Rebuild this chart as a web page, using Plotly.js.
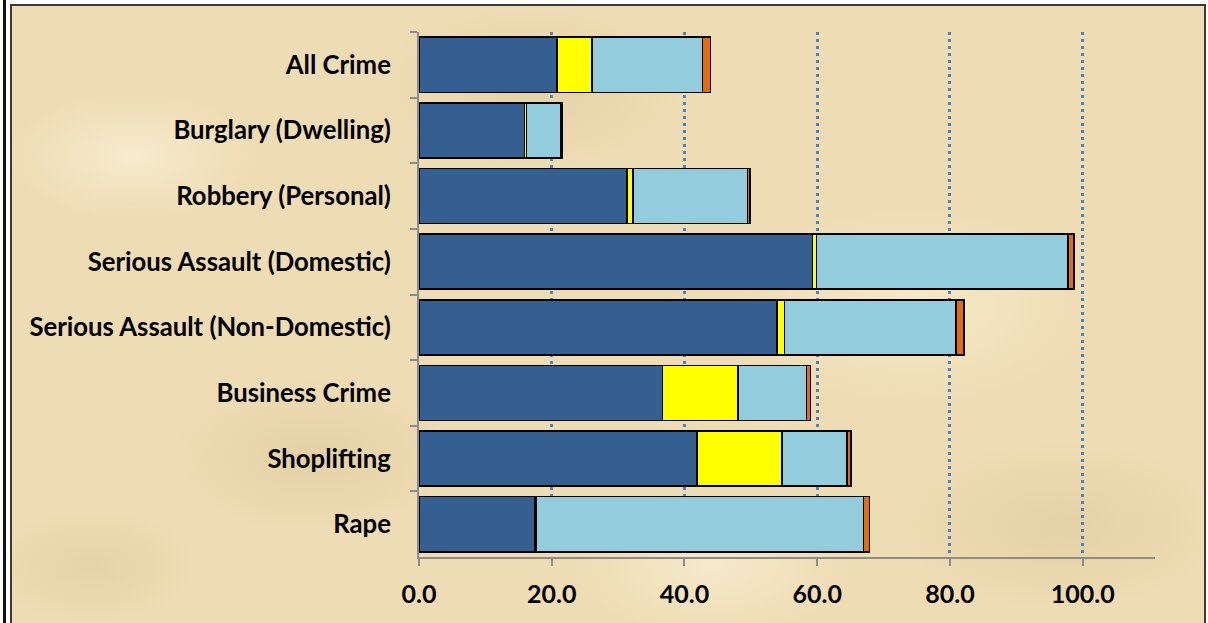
<!DOCTYPE html>
<html>
<head>
<meta charset="utf-8">
<script src="https://cdn.plot.ly/plotly-3.0.1.min.js"></script>
<style>
  html, body { margin:0; padding:0; background:#ffffff; }
  #wrap { position:relative; width:1208px; height:623px; overflow:hidden; background:#ffffff; }
  #vline { position:absolute; left:3px; top:0; width:3px; height:623px; background:#111; }
  #frame {
    position:absolute; left:10px; top:4px; width:1192px; height:640px;
    border:2px solid #3a3a3a;
    background-color:#eedcb4;
    background-image:
      radial-gradient(ellipse 180px 90px at 120px 150px, rgba(255,248,225,0.55), rgba(255,248,225,0) 70%),
      radial-gradient(ellipse 220px 120px at 520px 80px, rgba(214,190,140,0.35), rgba(214,190,140,0) 70%),
      radial-gradient(ellipse 260px 140px at 900px 300px, rgba(255,246,220,0.5), rgba(255,246,220,0) 70%),
      radial-gradient(ellipse 200px 110px at 300px 450px, rgba(210,186,138,0.35), rgba(210,186,138,0) 70%),
      radial-gradient(ellipse 240px 120px at 1050px 520px, rgba(212,188,140,0.35), rgba(212,188,140,0) 70%),
      radial-gradient(ellipse 200px 100px at 700px 560px, rgba(255,247,222,0.5), rgba(255,247,222,0) 70%),
      radial-gradient(ellipse 150px 80px at 80px 560px, rgba(215,192,145,0.35), rgba(215,192,145,0) 70%);
  }
  #chart { position:absolute; left:0; top:0; width:1208px; height:623px; }
</style>
</head>
<body>
<div id="wrap">
  <div id="vline"></div>
  <div id="frame"></div>
  <div id="chart"></div>
</div>
<script>
const categories = [
  "All Crime",
  "Burglary (Dwelling)",
  "Robbery (Personal)",
  "Serious Assault (Domestic)",
  "Serious Assault (Non-Domestic)",
  "Business Crime",
  "Shoplifting",
  "Rape"
];
const seriesDarkBlue  = [20.8, 15.9, 31.3, 59.3, 53.9, 36.7, 41.9, 17.4];
const seriesYellow    = [5.3,  0.3,  0.9,  0.6,  1.2, 11.4, 12.8,  0.2];
const seriesLightBlue = [16.6, 5.2, 17.3, 37.9, 25.8, 10.3,  9.8, 49.4];
const seriesOrange    = [1.2,  0.2,  0.4,  0.9,  1.2,  0.6,  0.6,  0.9];
const tickValues = [0, 20, 40, 60, 80, 100];
const tickLabels = ["0.0", "20.0", "40.0", "60.0", "80.0", "100.0"];

const colors = ["#355f91", "#ffff00", "#93cddd", "#e46c0a"];
const allSeries = [seriesDarkBlue, seriesYellow, seriesLightBlue, seriesOrange];

const traces = allSeries.map((vals, i) => ({
  type: "bar",
  orientation: "h",
  y: categories,
  x: vals,
  marker: { color: colors[i], line: { color: "#000000", width: 1.6 } },
  hoverinfo: "x+y",
  showlegend: false
}));

const font = "Lato, 'Liberation Sans', Arial, sans-serif";

const layout = {
  width: 1208,
  height: 623,
  margin: { l: 419, r: 53, t: 32, b: 66 },
  paper_bgcolor: "rgba(0,0,0,0)",
  plot_bgcolor: "rgba(0,0,0,0)",
  barmode: "stack",
  bargap: 0.16,
  xaxis: {
    range: [0, 110.9],
    tickvals: tickValues,
    ticktext: tickLabels,
    showgrid: true,
    gridcolor: "#4f81bd",
    gridwidth: 3,
    griddash: "3px,4px",
    zeroline: false,
    showline: true,
    linecolor: "#8c8c8c",
    linewidth: 2,
    ticks: "outside",
    ticklen: 7,
    tickwidth: 2,
    tickcolor: "#8c8c8c",
    ticklabelstandoff: 7,
    tickfont: { family: font, size: 25, color: "#000000", weight: "bold" },
    fixedrange: true
  },
  yaxis: {
    type: "category",
    categoryorder: "array",
    categoryarray: categories,
    autorange: "reversed",
    showgrid: false,
    zeroline: false,
    showline: true,
    linecolor: "#8c8c8c",
    linewidth: 2,
    ticks: "outside",
    tickson: "boundaries",
    ticklen: 7,
    tickwidth: 2,
    tickcolor: "#8c8c8c",
    ticklabelstandoff: 21,
    tickfont: { family: font, size: 25.7, color: "#000000", weight: "bold" },
    fixedrange: true
  }
};

Plotly.newPlot("chart", traces, layout, { displayModeBar: false, staticPlot: true });
</script>
</body>
</html>
